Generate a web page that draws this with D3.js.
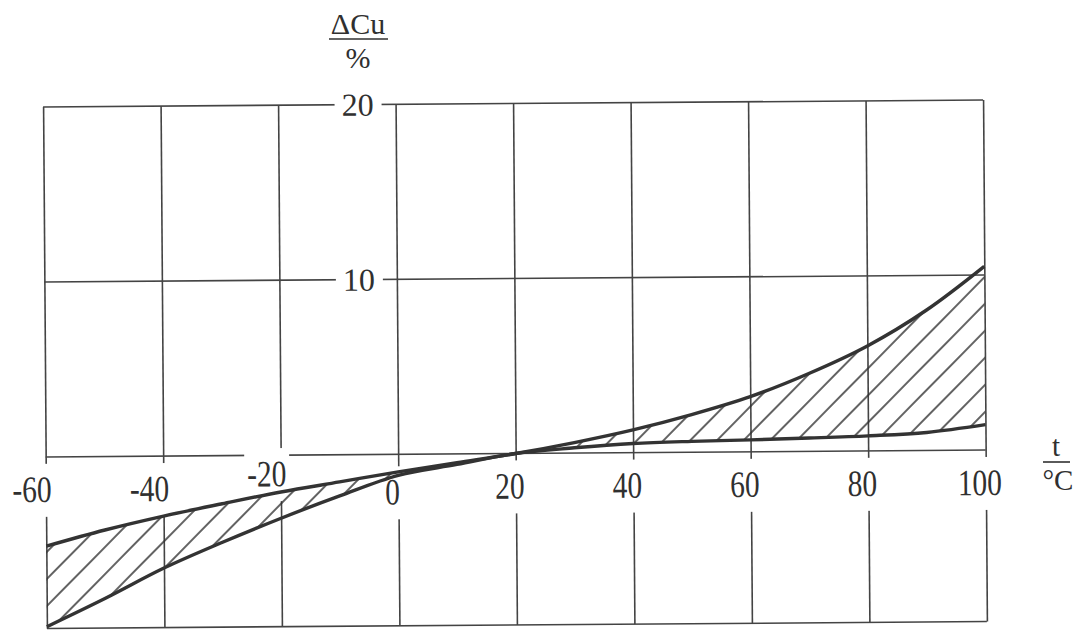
<!DOCTYPE html>
<html>
<head>
<meta charset="utf-8">
<script src="https://cdn.jsdelivr.net/npm/d3@7"></script>
<style>
  body { margin: 0; background: #fff; }
  svg { display: block; }
  text { font-family: "Liberation Serif", "DejaVu Serif", serif; fill: #303030; }
</style>
</head>
<body>
<script>
// temperature ticks (x) and deviation ticks (y)
var tempTicks = [-60, -40, -20, 0, 20, 40, 60, 80, 100];
var pctTicks = [10, 20];

// tolerance band of the copper resistance change
var temps    = [-60, -50, -40, -30, -20, -10, 0, 10, 20, 30, 40, 50, 60, 70, 80, 90, 100];
var upperDev = [-5.1, -4.2, -3.43, -2.75, -2.1, -1.55, -1.0, -0.5, 0, 0.6, 1.3, 2.15, 3.15, 4.45, 6.0, 8.0, 10.5];
var lowerDev = [-9.7, -8.1, -6.4, -4.95, -3.6, -2.35, -1.2, -0.6, 0, 0.3, 0.52, 0.62, 0.68, 0.76, 0.86, 1.03, 1.45];

var width = 1075, height = 630;
var yMin = -9.8;

var x = d3.scaleLinear().domain([-60, 100]).range([45, 985]);
var y = d3.scaleLinear().domain([yMin, 20]).range([625, 103.5]);

var svg = d3.select("body").append("svg")
  .attr("width", width)
  .attr("height", height);

var defs = svg.append("defs");
var hatch = defs.append("pattern")
  .attr("id", "hatch")
  .attr("patternUnits", "userSpaceOnUse")
  .attr("width", 19)
  .attr("height", 19)
  .attr("patternTransform", "rotate(45)");
hatch.append("line")
  .attr("x1", 2).attr("y1", -2)
  .attr("x2", 2).attr("y2", 21)
  .style("stroke", "#2e2e2e")
  .style("stroke-width", 1.5);

// the scan is tilted a little
var g = svg.append("g").attr("transform", "rotate(-0.42 515 365)");

var gridColor = "#444";

// vertical grid via axis
g.append("g")
  .attr("transform", "translate(0," + y(yMin) + ")")
  .call(d3.axisBottom(x).tickValues(tempTicks).tickSize(-(y(yMin) - y(20))).tickFormat(""))
  .call(function(a) {
    a.select(".domain").remove();
    a.selectAll("line").style("stroke", gridColor).style("stroke-width", 1.6);
  });

// horizontal lines
var hLines = [20, 10, 0, yMin];
g.selectAll(".hline")
  .data(hLines)
  .enter()
  .append("line")
  .attr("class", "hline")
  .attr("x1", x(-60)).attr("x2", x(100))
  .attr("y1", function(d) { return y(d); })
  .attr("y2", function(d) { return y(d); })
  .style("stroke", gridColor)
  .style("stroke-width", 1.6);

// x tick labels, with white background cutting the grid lines
var xl = g.selectAll(".xlab")
  .data(tempTicks)
  .enter()
  .append("g")
  .attr("class", "xlab")
  .attr("transform", function(d) {
    var px = x(d) + (d < 0 ? -14 : -6);
    var py = y(0) + 45;
    if (d === -20) py = y(0) + 31;
    if (d === 0) py = y(0) + 50;
    return "translate(" + px + "," + py + ") scale(0.95,1.2)";
  });
xl.append("text")
  .attr("text-anchor", "middle")
  .style("font-size", "31px")
  .text(function(d) { return d; });
xl.each(function() {
  var t = d3.select(this).select("text");
  var b = t.node().getBBox();
  d3.select(this).insert("rect", "text")
    .attr("x", b.x - 3).attr("y", b.y - 4)
    .attr("width", b.width + 6).attr("height", b.height + 10)
    .style("fill", "#fff");
});

// y tick labels
var yl = g.selectAll(".ylab")
  .data(pctTicks)
  .enter()
  .append("g")
  .attr("class", "ylab");
yl.append("text")
  .attr("x", x(0) - 22)
  .attr("y", function(d) { return y(d) + 11; })
  .attr("text-anchor", "end")
  .style("font-size", "32px")
  .text(function(d) { return d; });
yl.each(function() {
  var t = d3.select(this).select("text");
  var b = t.node().getBBox();
  d3.select(this).insert("rect", "text")
    .attr("x", b.x - 7).attr("y", b.y)
    .attr("width", b.width + 15).attr("height", b.height)
    .style("fill", "#fff");
});

// hatched band
var band = temps.map(function(t, i) { return { t: t, lo: lowerDev[i], hi: upperDev[i] }; });

var area = d3.area()
  .x(function(d) { return x(d.t); })
  .y0(function(d) { return y(d.lo); })
  .y1(function(d) { return y(d.hi); })
  .curve(d3.curveCatmullRom.alpha(0.5));

g.append("path")
  .datum(band)
  .attr("d", area)
  .style("fill", "url(#hatch)");

var lineHi = d3.line()
  .x(function(d) { return x(d.t); })
  .y(function(d) { return y(d.hi); })
  .curve(d3.curveCatmullRom.alpha(0.5));
var lineLo = d3.line()
  .x(function(d) { return x(d.t); })
  .y(function(d) { return y(d.lo); })
  .curve(d3.curveCatmullRom.alpha(0.5));

g.append("path").datum(band).attr("d", lineHi)
  .style("fill", "none").style("stroke", "#333").style("stroke-width", 3.4);
g.append("path").datum(band).attr("d", lineLo)
  .style("fill", "none").style("stroke", "#333").style("stroke-width", 3.4);

// axis names as fractions
svg.append("text").attr("x", 358).attr("y", 34)
  .attr("text-anchor", "middle").style("font-size", "30px").text("\u0394Cu");
svg.append("line").attr("x1", 329).attr("x2", 388).attr("y1", 39).attr("y2", 39)
  .style("stroke", "#303030").style("stroke-width", 1.6);
svg.append("text").attr("x", 358).attr("y", 68)
  .attr("text-anchor", "middle").style("font-size", "30px").text("%");

svg.append("text").attr("x", 1056).attr("y", 456)
  .attr("text-anchor", "middle").style("font-size", "29px").text("t");
svg.append("line").attr("x1", 1043).attr("x2", 1070).attr("y1", 462).attr("y2", 462)
  .style("stroke", "#303030").style("stroke-width", 1.6);
svg.append("text").attr("x", 1058).attr("y", 490)
  .attr("text-anchor", "middle").style("font-size", "29px").text("\u00b0C");
</script>
</body>
</html>
